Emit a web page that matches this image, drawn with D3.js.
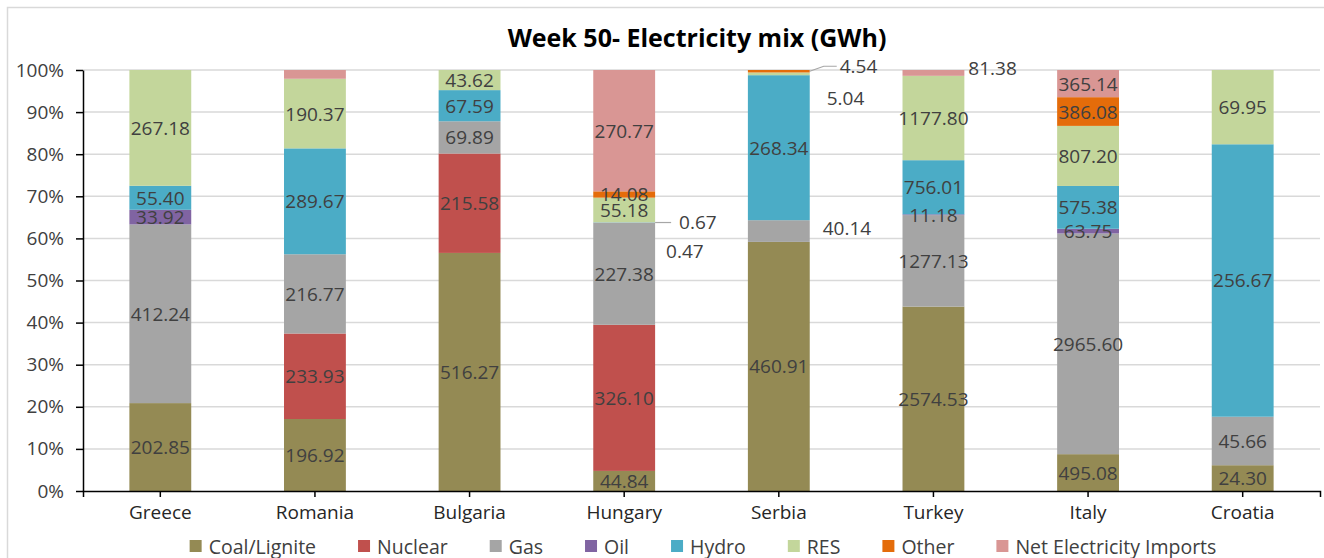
<!DOCTYPE html>
<html>
<head>
<meta charset="utf-8">
<script src="https://cdn.jsdelivr.net/npm/d3@7"></script>
<style>
  body { margin: 0; background: #fff; }
  text { font-family: "Open Sans", sans-serif; }
</style>
</head>
<body>
<div id="chart"></div>
<script>
// data (GWh)
var countries = ["Greece", "Romania", "Bulgaria", "Hungary", "Serbia", "Turkey", "Italy", "Croatia"];
var seriesNames = ["Coal/Lignite", "Nuclear", "Gas", "Oil", "Hydro", "RES", "Other", "Net Electricity Imports"];
var coal = [202.85, 196.92, 516.27, 44.84, 460.91, 2574.53, 495.08, 24.30];
var nuclear = [0, 233.93, 215.58, 326.10, 0, 0, 0, 0];
var gas = [412.24, 216.77, 69.89, 227.38, 40.14, 1277.13, 2965.60, 45.66];
var oil = [33.92, 0, 0, 0.47, 0, 11.18, 63.75, 0];
var hydro = [55.40, 289.67, 67.59, 0.67, 268.34, 756.01, 575.38, 256.67];
var res = [267.18, 190.37, 43.62, 55.18, 5.04, 1177.80, 807.20, 69.95];
var other = [0, 0, 0, 14.08, 4.54, 0, 386.08, 0];
var imports = [0, 24, 0, 270.77, 0, 81.38, 365.14, 0];
var yTicks = [0, 0.1, 0.2, 0.3, 0.4, 0.5, 0.6, 0.7, 0.8, 0.9, 1];

var colors = ["#948a54", "#c0504d", "#a5a5a5", "#8064a2", "#4bacc6", "#c3d69b", "#e46c0a", "#d99694"];

// size of the picture and the plot area
var width = 1324;
var height = 558;
var plotLeft = 83, plotRight = 1320, plotTop = 70, plotBottom = 491;

var svg = d3.select("#chart")
  .append("svg")
  .attr("width", width)
  .attr("height", height);

// chart border
svg.append("rect")
  .attr("x", 7.5).attr("y", 7.5)
  .attr("width", 1340).attr("height", 570)
  .attr("fill", "none")
  .attr("stroke", "#d9d9d9")
  .attr("stroke-width", 1.5);

// title
svg.append("text")
  .attr("x", 697)
  .attr("y", 47)
  .attr("text-anchor", "middle")
  .attr("font-size", 25)
  .attr("font-weight", "bold")
  .attr("fill", "#000")
  .text("Week 50- Electricity mix (GWh)");

// build rows and stack them as shares of each country's total
var cols = [coal, nuclear, gas, oil, hydro, res, other, imports];
var rows = countries.map(function(c, i) {
  var row = { country: c };
  seriesNames.forEach(function(s, j) { row[s] = cols[j][i]; });
  return row;
});

var stacked = d3.stack()
  .keys(seriesNames)
  .offset(d3.stackOffsetExpand)(rows);

var xScale = d3.scaleBand()
  .domain(countries)
  .range([plotLeft, plotRight])
  .paddingInner(0.6)
  .paddingOuter(0.3);

var yScale = d3.scaleLinear()
  .domain([0, 1])
  .range([plotBottom, plotTop]);

// gridlines
svg.append("g")
  .selectAll("line")
  .data(yTicks.slice(1))
  .enter()
  .append("line")
  .attr("x1", plotLeft).attr("x2", plotRight)
  .attr("y1", function(d) { return yScale(d); })
  .attr("y2", function(d) { return yScale(d); })
  .attr("stroke", "#d9d9d9")
  .attr("stroke-width", 1.5);

// bars
var layers = svg.append("g")
  .selectAll("g")
  .data(stacked)
  .enter()
  .append("g")
  .attr("fill", function(d, i) { return colors[i]; });

layers.selectAll("rect")
  .data(function(d) { return d; })
  .enter()
  .append("rect")
  .attr("x", function(d) { return xScale(d.data.country); })
  .attr("width", xScale.bandwidth())
  .attr("y", function(d) { return yScale(d[1]); })
  .attr("height", function(d) { return yScale(d[0]) - yScale(d[1]); });

// y axis
var yAxis = d3.axisLeft(yScale)
  .tickValues(yTicks)
  .tickFormat(d3.format(".0%"))
  .tickSize(7)
  .tickSizeOuter(0)
  .tickPadding(12);

var gy = svg.append("g")
  .attr("transform", "translate(" + plotLeft + ",0)")
  .call(yAxis);
gy.select(".domain").attr("stroke", "#000").attr("stroke-width", 1.5);
gy.selectAll(".tick line").attr("stroke", "#000").attr("stroke-width", 1.5);
gy.selectAll("text")
  .attr("font-size", 19)
  .attr("fill", "#404040")
  .style("font-family", "Open Sans, sans-serif");

// x axis
var xAxis = d3.axisBottom(xScale)
  .tickSize(6)
  .tickSizeOuter(6)
  .tickPadding(9);

var gx = svg.append("g")
  .attr("transform", "translate(0," + plotBottom + ")")
  .call(xAxis);
gx.select(".domain").attr("stroke", "#000").attr("stroke-width", 1.5);
gx.selectAll(".tick line").attr("stroke", "#000").attr("stroke-width", 1.5);
gx.selectAll("text")
  .attr("font-size", 19)
  .attr("fill", "#262626")
  .style("font-family", "Open Sans, sans-serif");

// data labels; a few are moved out of the thin segments like in Excel
var hidden = ["Romania|Net Electricity Imports"];
var moved = {
  "Hungary|Oil": { dx: 11, dy: 28 },
  "Hungary|Hydro": { dx: 24, dy: -1, leader: [[0, 0], [16, 0]] },
  "Serbia|Gas": { dx: 13, dy: -3 },
  "Serbia|RES": { dx: 17, dy: 24 },
  "Serbia|Other": { dx: 30, dy: -5, leader: [[0, 0], [14, -5], [27, -5]] },
  "Turkey|Net Electricity Imports": { dx: 4, dy: -5 }
};

var labels = [];
stacked.forEach(function(layer) {
  layer.forEach(function(d) {
    var key = d.data.country + "|" + layer.key;
    if (d.data[layer.key] <= 0 || hidden.indexOf(key) >= 0) return;
    labels.push({
      key: key,
      value: d.data[layer.key],
      cx: xScale(d.data.country) + xScale.bandwidth() / 2,
      edge: xScale(d.data.country) + xScale.bandwidth(),
      cy: yScale((d[0] + d[1]) / 2)
    });
  });
});

var labelG = svg.append("g");

labels.forEach(function(l) {
  var m = moved[l.key];
  var t = labelG.append("text")
    .attr("font-size", 19)
    .attr("fill", "#404040")
    .attr("dominant-baseline", "central")
    .text(d3.format(".2f")(l.value));
  if (m) {
    t.attr("x", l.edge + m.dx).attr("y", l.cy + m.dy).attr("text-anchor", "start");
    if (m.leader) {
      labelG.append("path")
        .attr("d", d3.line()(m.leader.map(function(p) { return [l.edge + p[0], l.cy + p[1]]; })))
        .attr("fill", "none")
        .attr("stroke", "#a6a6a6")
        .attr("stroke-width", 1.2);
    }
  } else {
    t.attr("x", l.cx).attr("y", l.cy).attr("text-anchor", "middle");
  }
});

// legend
var legend = svg.append("g");
var lx = 0;
seriesNames.forEach(function(s, i) {
  var g = legend.append("g");
  g.append("rect")
    .attr("x", 0).attr("y", -6)
    .attr("width", 12).attr("height", 12)
    .attr("fill", colors[i]);
  var t = g.append("text")
    .attr("x", 19)
    .attr("dominant-baseline", "central")
    .attr("font-size", 19.5)
    .attr("fill", "#404040")
    .text(s);
  var w = 19 + t.node().getComputedTextLength();
  g.attr("transform", "translate(" + lx + ",0)");
  lx += w + 42;
});
var legendW = lx - 42;
legend.attr("transform", "translate(" + (703 - legendW / 2) + ",546)");
</script>
</body>
</html>
